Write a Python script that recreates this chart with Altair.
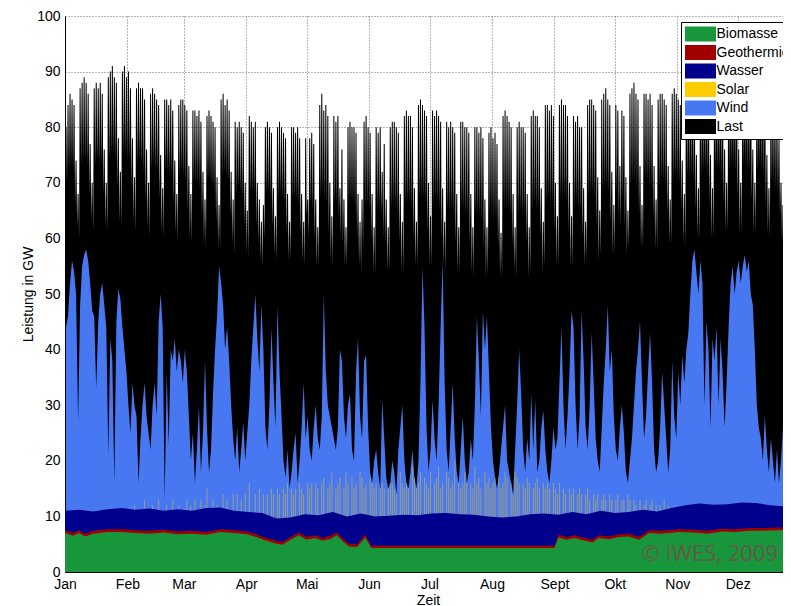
import altair as alt
import pandas as pd

# ---------------- categories / axes ----------------
month_names = ["Jan", "Feb", "Mar", "Apr", "Mai", "Jun", "Jul", "Aug", "Sept", "Okt", "Nov", "Dez"]
month_start_day = [0, 31, 59, 90, 120, 151, 181, 212, 243, 273, 304, 334]
y_ticks = [0, 10, 20, 30, 40, 50, 60, 70, 80, 90, 100]

series_names = ["Biomasse", "Geothermie", "Wasser", "Solar", "Wind", "Last"]
series_colors = ["#18963c", "#a00000", "#00008c", "#ffcc00", "#4778f2", "#000000"]

# ---------------- Last (load), GW: daily daytime peak and preceding night trough ----------------
load_peak_gw = [
    80, 84, 86, 85, 84, 74, 68,
    87, 88, 89, 88, 86, 77, 70,
    87, 88, 87, 88, 86, 76, 70,
    89, 90, 91, 89, 88, 78, 72,
    90, 91, 89, 90, 87, 78, 71,
    87, 88, 87, 87, 85, 76, 70,
    86, 87, 86, 85, 84, 75, 69,
    85, 85, 84, 85, 83, 74, 68,
    84, 85, 85, 84, 83, 73, 68,
    83, 83, 82, 83, 81, 72, 67,
    82, 83, 82, 81, 80, 71, 66,
    85, 86, 84, 85, 83, 72, 67,
    81, 80, 81, 80, 79, 70, 65,
    82, 81, 80, 81, 70, 67, 63,
    66, 80, 81, 80, 79, 69, 64,
    80, 81, 80, 79, 78, 68, 63,
    80, 80, 79, 80, 78, 68, 63,
    78, 67, 78, 79, 77, 67, 62,
    84, 86, 83, 84, 82, 70, 64,
    82, 81, 82, 69, 76, 67, 62,
    80, 81, 80, 80, 79, 68, 63,
    67, 81, 82, 80, 79, 68, 62,
    80, 79, 80, 72, 77, 67, 62,
    80, 81, 81, 80, 79, 68, 63,
    82, 83, 82, 82, 80, 69, 63,
    84, 85, 84, 83, 82, 70, 64,
    83, 82, 83, 82, 81, 69, 63,
    81, 80, 81, 80, 79, 68, 62,
    81, 81, 80, 80, 79, 68, 62,
    80, 80, 79, 80, 78, 67, 62,
    79, 80, 78, 79, 77, 67, 61,
    82, 83, 82, 81, 80, 68, 62,
    80, 81, 80, 80, 79, 68, 62,
    82, 83, 82, 82, 80, 69, 63,
    84, 84, 83, 84, 82, 70, 64,
    84, 85, 84, 84, 82, 70, 64,
    82, 81, 82, 80, 80, 69, 63,
    84, 85, 85, 84, 83, 71, 65,
    85, 86, 87, 85, 84, 72, 66,
    84, 83, 73, 83, 82, 71, 65,
    86, 87, 88, 86, 85, 73, 66,
    86, 86, 85, 86, 84, 73, 67,
    85, 86, 86, 85, 84, 73, 67,
    86, 87, 86, 85, 84, 74, 68,
    86, 87, 87, 86, 85, 75, 69,
    87, 88, 87, 87, 86, 75, 69,
    87, 88, 88, 87, 86, 76, 70,
    88, 88, 89, 88, 87, 76, 70,
    88, 89, 88, 88, 86, 76, 70,
    87, 88, 88, 87, 85, 75, 69,
    85, 84, 83, 82, 78, 70, 66,
    66, 64, 66, 72, 72, 68, 65,
    66,
]
load_night_gw = [
    62, 70, 72, 73, 72, 66, 62,
    60, 73, 74, 74, 73, 68, 63,
    61, 73, 74, 73, 73, 68, 62,
    61, 74, 75, 75, 74, 69, 63,
    62, 75, 75, 74, 74, 69, 63,
    61, 73, 74, 73, 72, 67, 62,
    60, 72, 73, 72, 72, 67, 61,
    60, 72, 72, 71, 71, 66, 61,
    59, 71, 72, 71, 70, 65, 60,
    59, 70, 70, 70, 69, 64, 59,
    58, 70, 70, 69, 68, 63, 58,
    58, 71, 72, 71, 70, 64, 59,
    57, 68, 69, 68, 67, 62, 57,
    57, 68, 68, 68, 62, 59, 56,
    55, 60, 68, 68, 67, 62, 57,
    56, 67, 68, 67, 66, 61, 56,
    56, 67, 67, 67, 66, 61, 56,
    55, 64, 60, 66, 65, 60, 55,
    55, 67, 68, 67, 66, 61, 56,
    55, 66, 66, 64, 60, 59, 55,
    55, 66, 66, 66, 65, 60, 55,
    54, 58, 66, 66, 65, 60, 54,
    54, 65, 65, 64, 60, 59, 54,
    54, 65, 66, 65, 64, 59, 54,
    54, 66, 66, 66, 65, 60, 55,
    55, 67, 67, 67, 66, 61, 55,
    55, 66, 67, 66, 65, 60, 55,
    54, 65, 65, 65, 64, 59, 54,
    54, 65, 65, 64, 64, 59, 54,
    53, 64, 64, 64, 63, 58, 53,
    53, 64, 64, 63, 63, 58, 53,
    53, 65, 65, 65, 64, 59, 54,
    53, 64, 65, 64, 64, 59, 53,
    54, 65, 66, 65, 65, 60, 54,
    55, 66, 67, 66, 66, 61, 55,
    55, 67, 67, 67, 66, 61, 55,
    55, 65, 66, 65, 65, 60, 55,
    56, 67, 68, 68, 67, 62, 56,
    57, 68, 69, 69, 68, 63, 57,
    57, 68, 64, 62, 67, 62, 57,
    58, 69, 70, 70, 69, 64, 58,
    58, 70, 70, 69, 69, 64, 58,
    58, 69, 70, 70, 69, 64, 59,
    59, 70, 71, 70, 70, 65, 59,
    59, 71, 71, 71, 70, 65, 60,
    60, 71, 72, 72, 71, 66, 60,
    60, 72, 72, 72, 71, 66, 61,
    61, 72, 73, 73, 72, 67, 61,
    61, 73, 73, 72, 72, 67, 61,
    61, 72, 73, 72, 71, 66, 61,
    60, 70, 70, 69, 68, 64, 59,
    58, 56, 56, 58, 62, 60, 58,
    58,
]

# ---------------- upper edge of the Wind band (all renewables incl. wind), GW, daily ----------------
wind_upper_gw = [
    44, 46, 52, 56, 54, 50, 27,
    48, 55, 57, 58, 56, 52, 47,
    46, 33, 45, 50, 52, 48, 44,
    21, 42, 38, 16, 45, 51, 49,
    44, 40, 36, 30, 25, 34, 30,
    28, 16, 24, 30, 34, 28, 25,
    22, 30, 34, 28, 45, 50, 44,
    13, 36, 23, 40, 38, 42, 36,
    40, 38, 34, 40, 36, 28, 20,
    25, 16, 22, 30, 18, 25, 38,
    26, 18, 22, 32, 40, 46, 55,
    52, 48, 40, 44, 38, 30, 24,
    20, 26, 18, 22, 27, 20, 25,
    30, 38, 44, 50, 42, 36, 48,
    40, 26, 22, 30, 44, 34, 26,
    48, 36, 28, 20, 17, 22, 15,
    18, 22, 25, 16, 20, 26, 34,
    24, 28, 22, 20, 26, 30, 24,
    22, 28, 50, 36, 30, 28, 26,
    24, 22, 26, 40, 38, 28, 24,
    30, 32, 22, 20, 36, 42, 28,
    24, 38, 39, 26, 18, 16, 20,
    22, 18, 15, 31, 24, 17, 15,
    16, 20, 18, 14, 22, 26, 30,
    20, 16, 15, 18, 22, 17, 15,
    20, 34, 55, 44, 26, 18, 22,
    31, 24, 20, 30, 44, 56, 34,
    22, 18, 26, 34, 24, 18, 16,
    22, 28, 20, 16, 18, 24, 20,
    30, 46, 38, 28, 47, 40, 46,
    36, 26, 20, 17, 15, 18, 22,
    26, 30, 20, 18, 16, 14, 22,
    30, 40, 32, 22, 18, 24, 20,
    32, 22, 31, 18, 20, 26, 29,
    22, 18, 16, 20, 26, 22, 24,
    34, 44, 30, 22, 28, 36, 47,
    44, 30, 22, 28, 47, 38, 26,
    22, 30, 43, 34, 24, 20, 18,
    26, 34, 40, 48, 36, 40, 28,
    22, 20, 26, 30, 25, 18, 16,
    20, 24, 30, 36, 40, 45, 34,
    24, 28, 36, 43, 34, 22, 18,
    20, 26, 36, 30, 24, 18, 22,
    38, 28, 24, 36, 30, 39, 34,
    40, 43, 50, 56, 58, 54, 50,
    56, 52, 30, 45, 40, 26, 42,
    38, 44, 30, 42, 36, 26, 34,
    44, 52, 55, 50, 54, 56, 52,
    55, 57, 54, 56, 50, 48, 40,
    30, 26, 24, 20, 28, 22, 18,
    24, 20, 16, 22, 16, 20, 26,
    22, 20, 24, 23, 21, 20, 22,
    22,
]

# ---------------- upper edge of the Solar midday spikes, GW (0 = no visible spike) ----------------
solar_upper_gw = [
    0, 0, 0, 0, 0, 0, 0,
    0, 0, 0, 0, 0, 0, 0,
    0, 0, 0, 0, 0, 0, 0,
    0, 0, 0, 0, 0, 0, 0,
    0, 0, 0, 0, 0, 0, 12,
    0, 0, 0, 0, 13, 0, 0,
    0, 12, 0, 0, 13, 0, 0,
    0, 12, 0, 0, 13, 0, 0,
    12, 0, 0, 0, 13, 0, 12,
    0, 13, 0, 0, 13, 0, 12,
    15, 0, 0, 13, 0, 12, 0,
    0, 14, 0, 13, 0, 0, 14,
    0, 14, 0, 13, 0, 14, 0,
    16, 0, 0, 14, 0, 15, 0,
    14, 0, 14, 0, 15, 14, 0,
    15, 14, 0, 15, 14, 16, 0,
    15, 14, 15, 0, 16, 15, 14,
    0, 16, 15, 16, 0, 16, 15,
    0, 16, 17, 0, 15, 16, 18,
    0, 15, 16, 17, 0, 15, 18,
    16, 0, 17, 15, 16, 0, 18,
    17, 15, 16, 0, 17, 19, 15,
    16, 0, 18, 16, 15, 0, 17,
    19, 16, 15, 17, 0, 18, 16,
    15, 17, 16, 0, 19, 17, 15,
    16, 18, 0, 17, 16, 15, 18,
    0, 16, 17, 19, 15, 16, 0,
    18, 17, 15, 16, 20, 0, 17,
    15, 16, 18, 17, 0, 16, 15,
    19, 16, 17, 15, 0, 18, 16,
    17, 15, 16, 18, 0, 17, 15,
    16, 18, 17, 0, 16, 15, 18,
    17, 16, 0, 16, 15, 17, 16,
    0, 15, 16, 17, 15, 0, 16,
    15, 16, 15, 0, 16, 15, 14,
    16, 0, 15, 14, 0, 15, 14,
    15, 0, 14, 15, 14, 0, 14,
    15, 13, 0, 14, 13, 14, 0,
    13, 14, 13, 0, 14, 13, 0,
    13, 14, 0, 13, 13, 0, 14,
    13, 0, 13, 12, 0, 13, 0,
    12, 13, 0, 12, 13, 0, 12,
    0, 12, 0, 13, 0, 12, 0,
    0, 12, 0, 0, 0, 0, 0,
    0, 0, 0, 0, 0, 0, 0,
    0, 0, 0, 0, 0, 0, 0,
    0, 0, 0, 0, 0, 0, 0,
    0, 0, 0, 0, 0, 0, 0,
    0, 0, 0, 0, 0, 0, 0,
    0, 0, 0, 0, 0, 0, 0,
    0, 0, 0, 0, 0, 0, 0,
    0, 0, 0, 0, 0, 0, 0,
    0,
]

# ---------------- upper edge of the Wasser band, GW ----------------
wasser_days = [0, 7, 14, 21, 28, 35, 42, 49, 56, 63, 70, 77, 84, 91, 98, 105, 112, 119, 126, 133,
               140, 147, 154, 161, 168, 175, 182, 189, 196, 203, 210, 217, 224, 231, 238, 245,
               252, 259, 266, 273, 280, 287, 294, 301, 308, 315, 322, 329, 336, 343, 350, 357, 364]
wasser_upper_gw = [11.0, 11.2, 10.9, 11.3, 11.5, 11.2, 11.4, 11.0, 11.3, 11.0,
                   11.5, 11.6, 11.0, 10.8, 10.6, 9.6, 9.8, 10.4, 10.2, 10.8,
                   10.0, 10.5, 10.0, 10.1, 10.3, 10.2, 10.5, 10.6, 10.4, 10.3,
                   10.0, 9.8, 10.0, 10.4, 10.5, 10.3, 10.8, 10.4, 11.0, 10.6,
                   10.8, 11.2, 10.9, 11.5, 12.0, 12.3, 12.1, 12.2, 12.5, 12.4,
                   12.0, 11.8, 11.7]

# ---------------- Biomasse upper edge and Geothermie thickness, GW ----------------
bio_days = [0, 4, 7, 10, 14, 21, 28, 35, 42, 49, 56, 63, 70, 77, 84, 90, 95, 100, 105, 108,
            112, 116, 120, 124, 128, 132, 135, 138, 141, 145, 149, 151, 152, 243, 245, 249,
            253, 257, 262, 265, 270, 275, 280, 285, 290, 295, 300, 305, 312, 319, 326, 333,
            340, 347, 354, 364]
biomasse_upper_gw = [7.0, 6.5, 7.0, 6.4, 6.9, 7.2, 7.2, 7.0, 6.9, 7.1,
                     6.8, 6.9, 6.7, 7.2, 7.0, 6.8, 6.3, 5.6, 5.1, 4.9,
                     5.8, 6.6, 5.8, 6.1, 5.6, 6.0, 6.6, 5.5, 4.6, 4.5,
                     6.2, 5.0, 4.3, 4.3, 6.2, 5.8, 6.1, 5.7, 5.3, 6.1,
                     5.9, 6.3, 6.4, 5.8, 7.0, 6.9, 7.0, 7.2, 7.1, 6.9,
                     7.3, 7.2, 7.4, 7.4, 7.5, 7.5]
geothermie_gw = [0.5, 0.5, 0.5, 0.5, 0.5, 0.5, 0.5, 0.5, 0.5, 0.5,
                 0.5, 0.5, 0.5, 0.5, 0.5, 0.5, 0.5, 0.5, 0.5, 0.5,
                 0.5, 0.5, 0.5, 0.5, 0.5, 0.5, 0.5, 0.5, 0.5, 0.5,
                 0.5, 0.5, 0.4, 0.4, 0.5, 0.5, 0.5, 0.5, 0.5, 0.5,
                 0.5, 0.5, 0.5, 0.5, 0.5, 0.5, 0.5, 0.5, 0.5, 0.5,
                 0.5, 0.5, 0.5, 0.5, 0.5, 0.5]

watermark_text = "\u00a9 IWES, 2009"

# ---------------- tables ----------------
# load: night trough at the start of the day, daytime level held from morning to evening
load_rows = []
for d in range(len(load_peak_gw)):
    load_rows.append({"day": d, "gw": load_night_gw[d], "series": "Last"})
    load_rows.append({"day": d + 0.25, "gw": load_peak_gw[d], "series": "Last"})
    load_rows.append({"day": d + 0.75, "gw": load_peak_gw[d], "series": "Last"})
load_df = pd.DataFrame(load_rows)

wind_df = pd.DataFrame({"day": [d + 0.5 for d in range(len(wind_upper_gw))],
                        "gw": wind_upper_gw, "series": "Wind"})

solar_rows = []
for d, v in enumerate(solar_upper_gw):
    if v > 0:
        solar_rows.append({"day": d + 0.5, "gw": min(v, wind_upper_gw[d]), "base": 0, "series": "Solar"})
solar_df = pd.DataFrame(solar_rows)

wasser_df = pd.DataFrame({"day": wasser_days, "gw": wasser_upper_gw, "series": "Wasser"})
geo_df = pd.DataFrame({"day": bio_days,
                       "gw": [b + g for b, g in zip(biomasse_upper_gw, geothermie_gw)],
                       "series": "Geothermie"})
bio_df = pd.DataFrame({"day": bio_days, "gw": biomasse_upper_gw, "series": "Biomasse"})
mark_df = pd.DataFrame({"day": [354], "gw": [2.0], "label": [watermark_text]})

# ---------------- encodings ----------------
label_expr = " : ".join(f"datum.value == {d} ? '{m}'" for d, m in zip(month_start_day, month_names)) + " : ''"

x_enc = alt.X(
    "day:Q",
    scale=alt.Scale(domain=[0, 356.5], nice=False, zero=False),
    axis=alt.Axis(values=month_start_day, labelExpr=label_expr, title="Zeit",
                  labelFlush=False, labelPadding=5, titleX=363, titleY=32,
                  titleBaseline="alphabetic"),
)
y_enc = alt.Y(
    "gw:Q", stack=None,
    scale=alt.Scale(domain=[0, 100], nice=False),
    axis=alt.Axis(values=y_ticks, title="Leistung in GW", labelFlush=False, labelPadding=5,
                  titleX=-37, titleY=278, titleAngle=270, titleAlign="center", titleBaseline="middle"),
)
color_scale = alt.Scale(domain=series_names, range=series_colors)
legend = alt.Legend(
    orient="none", legendX=616, legendY=6, title=None,
    symbolType="M-1.94,-0.94H1.94V0.94H-1.94Z", symbolSize=256, symbolStrokeWidth=0,
    symbolOffset=7.5, symbolOpacity=1, labelOffset=8, labelFontSize=14,
    labelFont="Liberation Sans", labelColor="black", rowPadding=2.5, padding=4,
    strokeColor="black", fillColor="white", labelLimit=300,
)
color_leg = alt.Color("series:N", scale=color_scale, legend=legend)
color_noleg = alt.Color("series:N", scale=color_scale, legend=None)


def band(df):
    return alt.Chart(df).mark_area(clip=True, interpolate="linear", opacity=1).encode(
        x=x_enc, y=y_enc, color=color_leg)


load_layer = band(load_df)
wind_layer = band(wind_df)
solar_layer = alt.Chart(solar_df).mark_rule(clip=True, strokeWidth=1, opacity=0.45).encode(
    x=x_enc, y=y_enc, y2="base:Q", color=color_noleg)
wasser_layer = band(wasser_df)
geo_layer = band(geo_df)
bio_layer = band(bio_df)
mark_layer = alt.Chart(mark_df).mark_text(
    align="right", baseline="alphabetic", font="Open Sans", fontSize=22,
    color="#7a4a4a", opacity=0.8).encode(x=x_enc, y=y_enc, text="label:N")

chart = alt.layer(
    load_layer, wind_layer, solar_layer, wasser_layer, geo_layer, bio_layer, mark_layer
).properties(
    width=718, height=556,
    autosize=alt.AutoSizeParams(type="none"),
    padding={"left": 57, "top": 8, "right": 0, "bottom": 34},
    background="white",
).configure_view(stroke=None).configure_axis(
    labelFont="Liberation Sans", labelFontSize=14, labelColor="black",
    titleFont="Liberation Sans", titleFontSize=14, titleColor="black", titleFontWeight="normal",
    grid=True, gridColor="#6f6f6f", gridDash=[1, 2], gridOpacity=1, gridWidth=1,
    domainColor="black", domainWidth=1, ticks=False,
)

chart.save("out.html", embed_options={"renderer": "svg", "actions": False})
